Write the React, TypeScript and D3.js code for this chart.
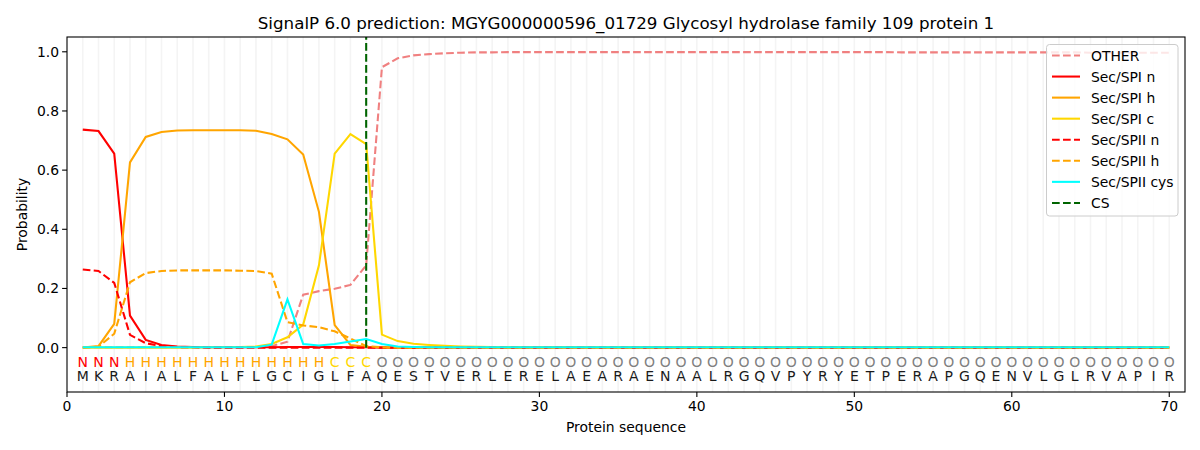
import React from 'react';
import * as d3 from 'd3';

const title = 'SignalP 6.0 prediction: MGYG000000596_01729 Glycosyl hydrolase family 109 protein 1';

const sequence = 'MKRAIALFALFLGCIGLFAQESTVERLERELAEARAENAALRGQVPYRYETPERAPGQENVLGLRVAPIR'.split('');
const regions = 'NNNHHHHHHHHHHHHHCCCOOOOOOOOOOOOOOOOOOOOOOOOOOOOOOOOOOOOOOOOOOOOOOOOOOO'.split('');

const other = [
  0.001, 0.001, 0.001, 0.001, 0.001, 0.001, 0.001, 0.001, 0.001, 0.001,
  0.001, 0.002, 0.005, 0.02, 0.179, 0.191, 0.199, 0.212, 0.278, 0.948,
  0.978, 0.988, 0.992, 0.995, 0.997, 0.998, 0.998, 0.999, 0.999, 0.999,
  0.999, 0.999, 0.999, 0.999, 0.999, 0.999, 0.999, 0.999, 0.999, 0.999,
  0.999, 0.999, 0.999, 0.999, 0.999, 0.999, 0.999, 0.999, 0.999, 0.999,
  0.999, 0.999, 0.998, 0.998, 0.998, 0.998, 0.998, 0.998, 0.998, 0.998,
  0.998, 0.998, 0.998, 0.998, 0.997, 0.997, 0.997, 0.997, 0.997, 0.997,
];
const spiN = [
  0.737, 0.732, 0.656, 0.108, 0.026, 0.009, 0.004, 0.002, 0.001, 0.001,
  0.001, 0.001, 0.001, 0.002, 0.002, 0.002, 0.002, 0.001, 0.001, 0.0,
  0, 0, 0, 0, 0, 0, 0, 0, 0, 0,
  0, 0, 0, 0, 0, 0, 0, 0, 0, 0,
  0, 0, 0, 0, 0, 0, 0, 0, 0, 0,
  0, 0, 0, 0, 0, 0, 0, 0, 0, 0,
  0, 0, 0, 0, 0, 0, 0, 0, 0, 0,
];
const spiH = [
  0.0, 0.005, 0.08, 0.626, 0.712, 0.729, 0.734, 0.735, 0.735, 0.735,
  0.735, 0.733, 0.722, 0.704, 0.653, 0.459, 0.076, 0.009, 0.003, 0.001,
  0, 0, 0, 0, 0, 0, 0, 0, 0, 0,
  0, 0, 0, 0, 0, 0, 0, 0, 0, 0,
  0, 0, 0, 0, 0, 0, 0, 0, 0, 0,
  0, 0, 0, 0, 0, 0, 0, 0, 0, 0,
  0, 0, 0, 0, 0, 0, 0, 0, 0, 0,
];
const spiC = [
  0, 0, 0, 0, 0, 0, 0, 0, 0.001, 0.001,
  0.002, 0.004, 0.012, 0.035, 0.078, 0.278, 0.656, 0.722, 0.688, 0.044,
  0.022, 0.013, 0.009, 0.006, 0.004, 0.003, 0.002, 0.002, 0.001, 0.001,
  0.001, 0.001, 0.001, 0.001, 0.001, 0.001, 0.001, 0.001, 0.001, 0.001,
  0.001, 0.001, 0.001, 0.001, 0.001, 0.001, 0.001, 0.001, 0.001, 0.001,
  0.001, 0.001, 0.001, 0.001, 0.001, 0.001, 0.001, 0.001, 0.001, 0.001,
  0.001, 0.001, 0.001, 0.001, 0.001, 0.001, 0.001, 0.001, 0.001, 0.001,
];
const spiiN = [
  0.264, 0.259, 0.219, 0.043, 0.015, 0.005, 0.002, 0.001, 0, 0,
  0, 0, 0, 0, 0, 0, 0, 0, 0, 0,
  0, 0, 0, 0, 0, 0, 0, 0, 0, 0,
  0, 0, 0, 0, 0, 0, 0, 0, 0, 0,
  0, 0, 0, 0, 0, 0, 0, 0, 0, 0,
  0, 0, 0, 0, 0, 0, 0, 0, 0, 0,
  0, 0, 0, 0, 0, 0, 0, 0, 0, 0,
];
const spiiH = [
  0.0, 0.003, 0.047, 0.221, 0.252, 0.259, 0.261, 0.261, 0.261, 0.261,
  0.26, 0.259, 0.25, 0.086, 0.075, 0.069, 0.055, 0.031, 0.005, 0.001,
  0, 0, 0, 0, 0, 0, 0, 0, 0, 0,
  0, 0, 0, 0, 0, 0, 0, 0, 0, 0,
  0, 0, 0, 0, 0, 0, 0, 0, 0, 0,
  0, 0, 0, 0, 0, 0, 0, 0, 0, 0,
  0, 0, 0, 0, 0, 0, 0, 0, 0, 0,
];
const spiiCys = [
  0.001, 0.001, 0.001, 0.001, 0.001, 0.001, 0.001, 0.001, 0.001, 0.001,
  0.001, 0.001, 0.01, 0.163, 0.012, 0.007, 0.012, 0.021, 0.029, 0.012,
  0.004, 0.002, 0.001, 0.001, 0.001, 0.001, 0.001, 0.001, 0.001, 0.001,
  0.001, 0.001, 0.001, 0.001, 0.001, 0.001, 0.001, 0.001, 0.001, 0.001,
  0.001, 0.001, 0.001, 0.001, 0.001, 0.001, 0.001, 0.001, 0.001, 0.001,
  0.001, 0.001, 0.001, 0.001, 0.001, 0.001, 0.001, 0.001, 0.001, 0.001,
  0.001, 0.001, 0.001, 0.001, 0.001, 0.001, 0.001, 0.001, 0.001, 0.001,
];
const cleavageSite = 19;

const xTicks = [0, 10, 20, 30, 40, 50, 60, 70];
const yTicks = [0.0, 0.2, 0.4, 0.6, 0.8, 1.0];

const series = [
  { name: 'OTHER', values: other, color: '#f08080', dashed: true },
  { name: 'Sec/SPI n', values: spiN, color: '#ff0000', dashed: false },
  { name: 'Sec/SPI h', values: spiH, color: '#ffa500', dashed: false },
  { name: 'Sec/SPI c', values: spiC, color: '#ffd700', dashed: false },
  { name: 'Sec/SPII n', values: spiiN, color: '#ff0000', dashed: true },
  { name: 'Sec/SPII h', values: spiiH, color: '#ffa500', dashed: true },
  { name: 'Sec/SPII cys', values: spiiCys, color: '#00ffff', dashed: false },
];

const regionColor: Record<string, string> = { N: '#ff0000', H: '#ffa500', C: '#ffd700', O: '#808080' };

const W = 1200;
const H = 450;
const margin = { top: 37, right: 15, bottom: 58, left: 67 };
const font = 'DejaVu Sans, sans-serif';

export default function App() {
  const x = d3.scaleLinear().domain([0, 71]).range([margin.left, W - margin.right]);
  const y = d3.scaleLinear().domain([-0.15, 1.05]).range([H - margin.bottom, margin.top]);
  const line = d3.line<number>().x((_, i) => x(i + 1)).y(d => y(d));
  const dash = '7.7,3.3';
  const x0 = margin.left;
  const x1 = W - margin.right;
  const yTop = margin.top;
  const yBot = H - margin.bottom;

  const legendItems = [
    ...series.map(s => ({ name: s.name, color: s.color, dashed: s.dashed })),
    { name: 'CS', color: '#006400', dashed: true },
  ];

  return (
    <svg width={W} height={H} style={{ position: 'absolute', left: 0, top: 0, background: '#fff' }} fontFamily={font}>
      <defs>
        <clipPath id="plot">
          <rect x={x0} y={yTop} width={x1 - x0} height={yBot - yTop} />
        </clipPath>
      </defs>
      <rect x={0} y={0} width={W} height={H} fill="#fff" />

      {/* vertical position grid */}
      {sequence.map((_, i) => (
        <line key={'g' + i} x1={x(i + 1)} x2={x(i + 1)} y1={yTop} y2={yBot} stroke="#f4f4f4" strokeWidth={1.6} />
      ))}

      <g clipPath="url(#plot)">
        {series.map(s => (
          <path key={s.name} d={line(s.values) || ''} fill="none" stroke={s.color} strokeWidth={2.08}
            strokeDasharray={s.dashed ? dash : undefined} />
        ))}
        <line x1={x(cleavageSite)} x2={x(cleavageSite)} y1={y(0)} y2={yTop} stroke="#006400" strokeWidth={2.08} strokeDasharray={dash} />
      </g>

      {/* sequence annotations */}
      {regions.map((r, i) => (
        <text key={'r' + i} x={x(i + 1)} y={y(-0.066)} textAnchor="middle" fontSize={14} fill={regionColor[r]}>{r}</text>
      ))}
      {sequence.map((a, i) => (
        <text key={'s' + i} x={x(i + 1)} y={y(-0.114)} textAnchor="middle" fontSize={14} fill="#1a1a1a">{a}</text>
      ))}

      {/* frame */}
      <rect x={x0} y={yTop} width={x1 - x0} height={yBot - yTop} fill="none" stroke="#000" strokeWidth={1.1} />

      {/* x axis */}
      {xTicks.map(t => (
        <g key={'xt' + t}>
          <line x1={x(t)} x2={x(t)} y1={yBot} y2={yBot + 4.9} stroke="#000" strokeWidth={1.1} />
          <text x={x(t)} y={yBot + 19} textAnchor="middle" fontSize={13.9} fill="#000">{t}</text>
        </g>
      ))}
      <text x={(x0 + x1) / 2} y={432} textAnchor="middle" fontSize={13.9} fill="#000">Protein sequence</text>

      {/* y axis */}
      {yTicks.map(t => (
        <g key={'yt' + t}>
          <line x1={x0 - 4.9} x2={x0} y1={y(t)} y2={y(t)} stroke="#000" strokeWidth={1.1} />
          <text x={x0 - 8} y={y(t) + 5} textAnchor="end" fontSize={13.9} fill="#000">{t.toFixed(1)}</text>
        </g>
      ))}
      <text transform={`translate(27,${(yTop + yBot) / 2}) rotate(-90)`} textAnchor="middle" fontSize={13.9} fill="#000">Probability</text>

      {/* title */}
      <text x={(x0 + x1) / 2} y={29} textAnchor="middle" fontSize={16.7} fill="#000">{title}</text>

      {/* legend */}
      <g>
        <rect x={1046.5} y={44.5} width={131.5} height={171.5} rx={3} fill="#fff" fillOpacity={0.8} stroke="#cccccc" strokeWidth={1} />
        {legendItems.map((it, i) => {
          const cy = 55.5 + i * 21.06;
          return (
            <g key={'l' + i}>
              <line x1={1052} x2={1080} y1={cy} y2={cy} stroke={it.color} strokeWidth={2.08}
                strokeDasharray={it.dashed ? dash : undefined} />
              <text x={1091} y={cy + 5} fontSize={13.9} fill="#000">{it.name}</text>
            </g>
          );
        })}
      </g>
    </svg>
  );
}
